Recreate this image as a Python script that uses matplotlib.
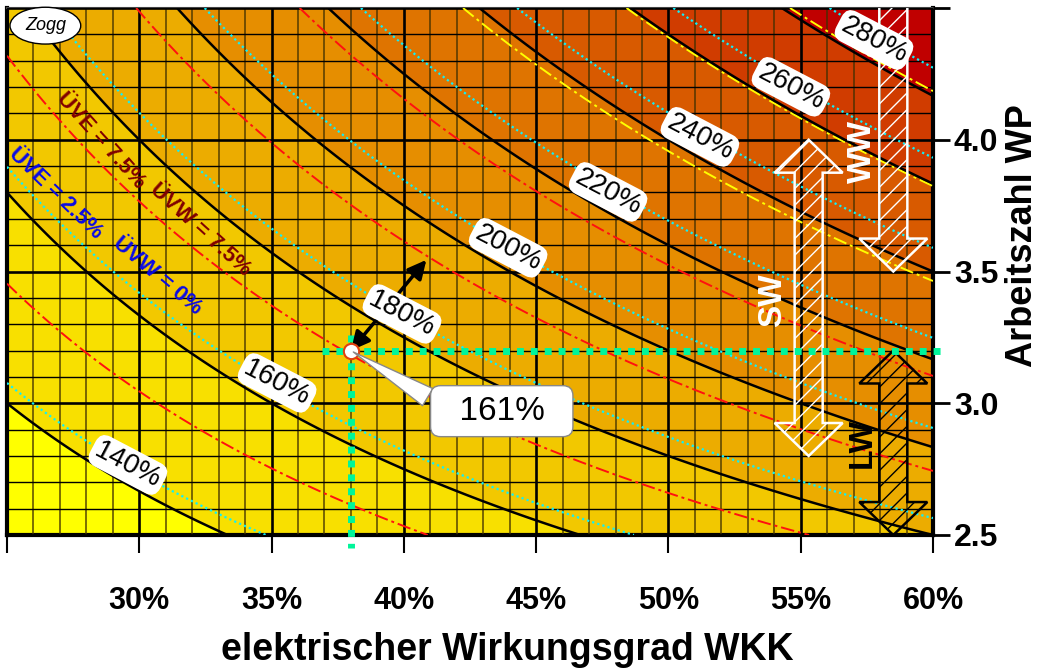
import numpy as np
import matplotlib
matplotlib.use("Agg")
import matplotlib.pyplot as plt
from matplotlib.patches import Polygon

plt.rcParams['font.family'] = ['Liberation Sans', 'DejaVu Sans']
plt.rcParams['hatch.linewidth'] = 1.0

# ---------------- data ----------------
eta_el_range = [25, 60]          # elektrischer Wirkungsgrad WKK [%]
cop_range = [2.5, 4.5]           # Arbeitszahl WP
eta_total = 0.90                 # Gesamtwirkungsgrad WKK
levels = [140, 160, 180, 200, 220, 240, 260, 280]
fill_colors = ['#FFFF00', '#F8E000', '#F2C800', '#ECAC00', '#E68E00',
               '#DF7400', '#D85A00', '#D03C00', '#C00000']
loss_none = (0.0, 0.0)           # black
loss_small = (0.025, 0.0)        # UVE 2.5 %, UVW 0 %  (cyan)
loss_large = (0.075, 0.075)      # UVE 7.5 %, UVW 7.5 % (red / yellow)
label_x = [29.57, 35.21, 39.93, 43.94, 47.72, 51.19, 54.63, 57.77]
label_y = [2.766, 3.077, 3.339, 3.590, 3.802, 4.011, 4.201, 4.379]
point_eta, point_cop, point_text = 38, 3.2, '161%'
point_arrow_end = (40.85, 3.544)
callout_pos = (43.7, 2.97)
# heat pump COP ranges: name, x position, low, high
hp_sw = ('SW', 55.3, 2.8, 4.0)
hp_ww = ('WW', 58.5, 3.5, 4.7)
hp_lw = ('LW', 58.5, 2.5, 3.2)
x_ticks = [25, 30, 35, 40, 45, 50, 55, 60]
x_ticklabels = ['', '30%', '35%', '40%', '45%', '50%', '55%', '60%']
y_ticks = [2.5, 3.0, 3.5, 4.0, 4.5]
y_ticklabels = ['2.5', '3.0', '3.5', '4.0', '']


def efficiency(eta_pct, cop, losses):
    ue, uw = losses
    e = eta_pct / 100.0
    return 100.0 * (e * (1 - ue) * cop + (eta_total - e) * (1 - uw))


xs = np.linspace(eta_el_range[0], eta_el_range[1], 500)
ys = np.linspace(cop_range[0], cop_range[1], 500)
X, Y = np.meshgrid(xs, ys)
Z0 = efficiency(X, Y, loss_none)
Zc = efficiency(X, Y, loss_small)
Zr = efficiency(X, Y, loss_large)

fig = plt.figure(figsize=(10.41, 6.69), dpi=100)
ax = fig.add_axes([7 / 1041, 1 - 535 / 669, 926 / 1041, 527 / 669])
ax.set_xlim(eta_el_range)
ax.set_ylim(cop_range)

ax.contourf(X, Y, Z0, levels=[0] + levels + [1000], colors=fill_colors, zorder=1)

ax.contour(X, Y, Zc, levels=levels, colors='#10F0F8', linewidths=1.6,
           linestyles=[(0, (1, 1.4))], zorder=3.5)
red_cols = ['#FF1010' if l < 220 else '#FFFF00' for l in levels]
ax.contour(X, Y, Zr, levels=levels, colors=red_cols, linewidths=1.4,
           linestyles=[(0, (7, 2, 1.5, 2))], zorder=3.5)
ax.contour(X, Y, Z0, levels=levels, colors='black', linewidths=1.8, zorder=4)

# contour labels (rotation follows the local slope of the isoline on screen)
for lev, lx, ly in zip(levels, label_x, label_y):
    e = lx / 100.0
    slope = -(lev / 100.0 - eta_total) / e ** 2 / 100.0   # dCOP / d(eta %)
    p0 = ax.transData.transform((lx, ly))
    p1 = ax.transData.transform((lx + 1.0, ly + slope))
    ang = np.degrees(np.arctan2(p1[1] - p0[1], p1[0] - p0[0])) + 2
    ax.text(lx, ly, f'{lev}%', fontsize=20, rotation=ang, rotation_mode='anchor',
            ha='center', va='center', zorder=8,
            bbox=dict(boxstyle='round,pad=0.14,rounding_size=0.4', fc='white', ec='none'))

# grid
ax.set_xticks(x_ticks)
ax.set_xticks(np.arange(eta_el_range[0], eta_el_range[1] + 0.5, 1), minor=True)
ax.set_yticks(y_ticks)
ax.set_yticks(np.arange(cop_range[0], cop_range[1] + 0.05, 0.1), minor=True)
ax.set_axisbelow(False)
ax.grid(which='major', color='black', lw=1.9)
ax.xaxis.grid(which='minor', color=(0.25, 0.19, 0.0), lw=1.3, alpha=0.75)
ax.yaxis.grid(which='minor', color='black', lw=1.0)
ax.tick_params(which='minor', length=0)

ax.yaxis.tick_right()
ax.yaxis.set_label_position('right')
ax.set_xticklabels(x_ticklabels, fontweight='bold')
ax.set_yticklabels(y_ticklabels, fontweight='bold')
ax.tick_params(axis='x', which='major', direction='out', length=13, width=1.5,
               labelsize=22, pad=24)
ax.tick_params(axis='y', which='major', direction='out', length=12, width=2,
               labelsize=23, pad=3)
for s in ['left', 'bottom', 'right']:
    ax.spines[s].set_linewidth(3)
ax.spines['top'].set_linewidth(1.5)
ax.spines['top'].set_color('#444444')

ax.set_xlabel('elektrischer Wirkungsgrad WKK', fontsize=27, fontweight='bold')
ax.xaxis.set_label_coords(0.54, -0.218)
ax.xaxis.label.set_va('center')
ax.set_ylabel('Arbeitszahl WP', fontsize=26, fontweight='bold', rotation=90)
ax.yaxis.set_label_coords(1.097, 0.569)
ax.yaxis.label.set_va('center')
ax.yaxis.label.set_ha('center')

# loss texts
ax.text(28.55, 3.996, 'ÜVE = 7.5%', color='#800000', fontsize=16, fontweight='bold',
        rotation=-48, ha='center', va='center', rotation_mode='anchor', zorder=6)
ax.text(32.3, 3.658, 'ÜVW = 7.5%', color='#800000', fontsize=16, fontweight='bold',
        rotation=-42, ha='center', va='center', rotation_mode='anchor', zorder=6)
ax.text(26.85, 3.798, 'ÜVE = 2.5%', color='#0A0AE6', fontsize=16, fontweight='bold',
        rotation=-44, ha='center', va='center', rotation_mode='anchor', zorder=6)
ax.text(30.67, 3.483, 'ÜVW = 0%', color='#0A0AE6', fontsize=16, fontweight='bold',
        rotation=-40, ha='center', va='center', rotation_mode='anchor', zorder=6)

# Zogg
ax.text(26.45, 4.433, 'Zogg', fontsize=13, fontstyle='italic', ha='center', va='center',
        bbox=dict(boxstyle='ellipse,pad=0.25', fc='white', ec='black', lw=1), zorder=9)


# heat pump range arrows
def arrow_poly(xc, y_lo, y_hi, up=True, down=True, shaft=1.06, head=2.57, hlen=0.125):
    sw, hw = shaft / 2, head / 2
    pts = []
    if down:
        pts += [(xc, y_lo), (xc + hw, y_lo + hlen), (xc + sw, y_lo + hlen)]
    else:
        pts += [(xc + sw, y_lo)]
    if up:
        pts += [(xc + sw, y_hi - hlen), (xc + hw, y_hi - hlen), (xc, y_hi),
                (xc - hw, y_hi - hlen), (xc - sw, y_hi - hlen)]
    else:
        pts += [(xc + sw, y_hi), (xc - sw, y_hi)]
    if down:
        pts += [(xc - sw, y_lo + hlen), (xc - hw, y_lo + hlen)]
    else:
        pts += [(xc - sw, y_lo)]
    return pts


for (name, xc, lo, hi), col, up, down, txt_x, txt_y in [
        (hp_sw, 'white', True, True, 53.95, 3.392),
        (hp_ww, 'white', False, True, 57.32, 3.954),
        (hp_lw, 'black', True, True, 57.32, 2.849)]:
    p = Polygon(arrow_poly(xc, lo, hi, up, down), closed=True, fill=False,
                edgecolor=col, lw=1.8, hatch='//', zorder=5)
    ax.add_patch(p)
    ax.text(txt_x, txt_y, name, color=col, fontsize=24, fontweight='bold',
            rotation=90, ha='center', va='center', zorder=6)

# operating point
ax.plot([36.9, 60.45], [point_cop, point_cop], color='#00F59A', lw=5,
        linestyle=(0, (1, 1)), dash_capstyle='butt',
        clip_on=False, zorder=5.5)
ax.plot([point_eta, point_eta], [3.26, 2.45], color='#00F59A', lw=5,
        linestyle=(0, (1, 1)), dash_capstyle='butt', clip_on=False, zorder=5.5)
ax.annotate('', xy=point_arrow_end, xytext=(point_eta, point_cop),
            arrowprops=dict(arrowstyle='<|-|>', lw=2.5, color='black',
                            mutation_scale=28, shrinkA=0, shrinkB=0), zorder=6)
ax.plot(point_eta, point_cop, 'o', ms=11, mfc='white', mec='#E04010', mew=1.5, zorder=7)
ax.annotate('  ' + point_text + '  ', xy=(point_eta, point_cop), xytext=callout_pos,
            fontsize=24, ha='center', va='center', zorder=9,
            bbox=dict(boxstyle='round,pad=0.3', fc='white', ec='#888888', lw=1),
            arrowprops=dict(arrowstyle='wedge,tail_width=0.6,shrink_factor=0.5',
                            fc='white', ec='#888888', lw=1, relpos=(0.0, 0.7)))

fig.savefig('out.png', dpi=100)
